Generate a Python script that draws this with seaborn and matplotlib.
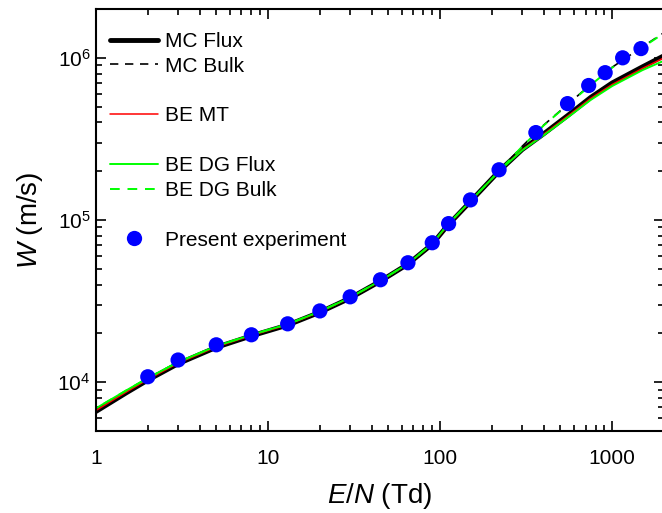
import numpy as np
import pandas as pd
import matplotlib
matplotlib.use("Agg")
import matplotlib.pyplot as plt
import seaborn as sns
from matplotlib.lines import Line2D
from matplotlib.ticker import LogLocator, NullFormatter, FixedLocator

# ---- data ----
en_curve = [1, 1.5, 2, 3, 5, 8, 13, 20, 30, 45, 65, 90, 110, 150, 220,
            300, 400, 550, 750, 1000, 1500, 2000]
mc_flux = [6.6e3, 8.6e3, 1.03e4, 1.30e4, 1.64e4, 1.93e4, 2.25e4, 2.70e4, 3.30e4,
           4.20e4, 5.35e4, 7.1e4, 9.2e4, 1.30e5, 2.0e5,
           2.72e5, 3.40e5, 4.40e5, 5.70e5, 7.0e5, 8.8e5, 1.03e6]
mc_bulk = [6.6e3, 8.6e3, 1.03e4, 1.30e4, 1.64e4, 1.93e4, 2.25e4, 2.70e4, 3.30e4,
           4.20e4, 5.35e4, 7.1e4, 9.2e4, 1.30e5, 2.0e5,
           2.85e5, 3.85e5, 5.15e5, 6.85e5, 8.75e5, 1.17e6, 1.43e6]
be_mt = [6.7e3, 8.7e3, 1.04e4, 1.31e4, 1.65e4, 1.94e4, 2.26e4, 2.71e4, 3.31e4,
         4.21e4, 5.36e4, 7.1e4, 9.2e4, 1.30e5, 2.0e5,
         2.71e5, 3.38e5, 4.36e5, 5.62e5, 6.85e5, 8.6e5, 1.0e6]
be_dg_flux = [6.9e3, 8.9e3, 1.06e4, 1.33e4, 1.67e4, 1.96e4, 2.28e4, 2.73e4, 3.33e4,
              4.23e4, 5.38e4, 7.15e4, 9.3e4, 1.31e5, 2.0e5,
              2.69e5, 3.33e5, 4.28e5, 5.50e5, 6.70e5, 8.4e5, 9.6e5]
be_dg_bulk = [6.9e3, 8.9e3, 1.06e4, 1.33e4, 1.67e4, 1.96e4, 2.28e4, 2.73e4, 3.33e4,
              4.23e4, 5.38e4, 7.15e4, 9.3e4, 1.31e5, 2.0e5,
              2.84e5, 3.83e5, 5.12e5, 6.80e5, 8.70e5, 1.16e6, 1.42e6]

exp_en = [2, 3, 5, 8, 13, 20, 30, 45, 65, 90, 112, 150, 220, 360, 550, 730, 910, 1150, 1470]
exp_w = [1.08e4, 1.37e4, 1.70e4, 1.96e4, 2.29e4, 2.75e4, 3.36e4, 4.28e4, 5.45e4, 7.24e4,
         9.5e4, 1.33e5, 2.04e5, 3.46e5, 5.22e5, 6.75e5, 8.1e5, 1.0e6, 1.14e6]

x_ticks = [1, 10, 100, 1000]
x_tick_labels = ["1", "10", "100", "1000"]

# ---- style ----
sns.set_theme(style="ticks")
plt.rcParams["font.family"] = ["Liberation Sans", "DejaVu Sans"]
plt.rcParams["mathtext.fontset"] = "custom"
plt.rcParams["mathtext.rm"] = "Liberation Sans"
plt.rcParams["mathtext.it"] = "Liberation Sans:italic"
plt.rcParams["mathtext.bf"] = "Liberation Sans:bold"
plt.rcParams["text.color"] = "black"
plt.rcParams["axes.labelcolor"] = "black"
plt.rcParams["xtick.color"] = "black"
plt.rcParams["ytick.color"] = "black"

fig = plt.figure(figsize=(6.62, 5.13), dpi=100)
ax = fig.add_axes([96 / 662, 82 / 513, (664 - 96) / 662, (431 - 9) / 513])

green = "#00FF00"
sns.lineplot(x=en_curve, y=mc_flux, ax=ax, color="black", linewidth=3.5)
sns.lineplot(x=en_curve, y=mc_bulk, ax=ax, color="black", linewidth=1.2, linestyle=(0, (5, 4)))
sns.lineplot(x=en_curve, y=be_mt, ax=ax, color="#FF0000", linewidth=1.1)
sns.lineplot(x=en_curve, y=be_dg_flux, ax=ax, color=green, linewidth=1.4)
sns.lineplot(x=en_curve, y=be_dg_bulk, ax=ax, color=green, linewidth=1.4, linestyle=(4.5, (5, 4)))
sns.scatterplot(x=exp_en, y=exp_w, ax=ax, color="#0000FF", s=120, edgecolor="none", zorder=5)

ax.set_xscale("log")
ax.set_yscale("log")
ax.set_xlim(1, 2000)
ax.set_ylim(5000, 2e6)

ax.xaxis.set_major_locator(FixedLocator(x_ticks))
ax.set_xticklabels(x_tick_labels)
ax.xaxis.set_minor_locator(LogLocator(base=10, subs=np.arange(2, 10)))
ax.xaxis.set_minor_formatter(NullFormatter())
ax.yaxis.set_major_locator(LogLocator(base=10, numticks=10))
ax.yaxis.set_minor_locator(LogLocator(base=10, subs=np.arange(2, 10), numticks=20))
ax.yaxis.set_minor_formatter(NullFormatter())

ax.tick_params(which="both", direction="in", top=True, right=True,
               width=1.2, labelsize=15, colors="black")
ax.tick_params(axis="x", which="both", pad=13)
ax.tick_params(axis="y", which="both", pad=4)
ax.tick_params(which="major", length=7)
ax.tick_params(which="minor", length=4)
for s in ax.spines.values():
    s.set_linewidth(1.5)
    s.set_color("black")

ax.set_xlabel("$E/N$ (Td)", fontsize=20, labelpad=9)
ax.set_ylabel("$W$ (m/s)", fontsize=20, labelpad=9)

handles = [
    Line2D([], [], color="black", lw=3.5),
    Line2D([], [], color="black", lw=1.2, ls=(0, (5, 4))),
    Line2D([], [], color="none"),
    Line2D([], [], color="#FF0000", lw=1.1),
    Line2D([], [], color="none"),
    Line2D([], [], color=green, lw=1.4),
    Line2D([], [], color=green, lw=1.4, ls=(0, (5, 4))),
    Line2D([], [], color="none"),
    Line2D([], [], ls="none", marker="o", color="#0000FF", markersize=11, markeredgewidth=0),
]
labels = ["MC Flux", "MC Bulk", " ", "BE MT", " ", "BE DG Flux", "BE DG Bulk", " ",
          "Present experiment"]
ax.legend(handles, labels, loc="upper left", bbox_to_anchor=(-0.016, 1.0), frameon=False,
          fontsize=15, handlelength=2.3, handletextpad=0.35, labelspacing=0.28,
          borderaxespad=0.2, borderpad=0.9)

fig.savefig("out.png", dpi=100)
